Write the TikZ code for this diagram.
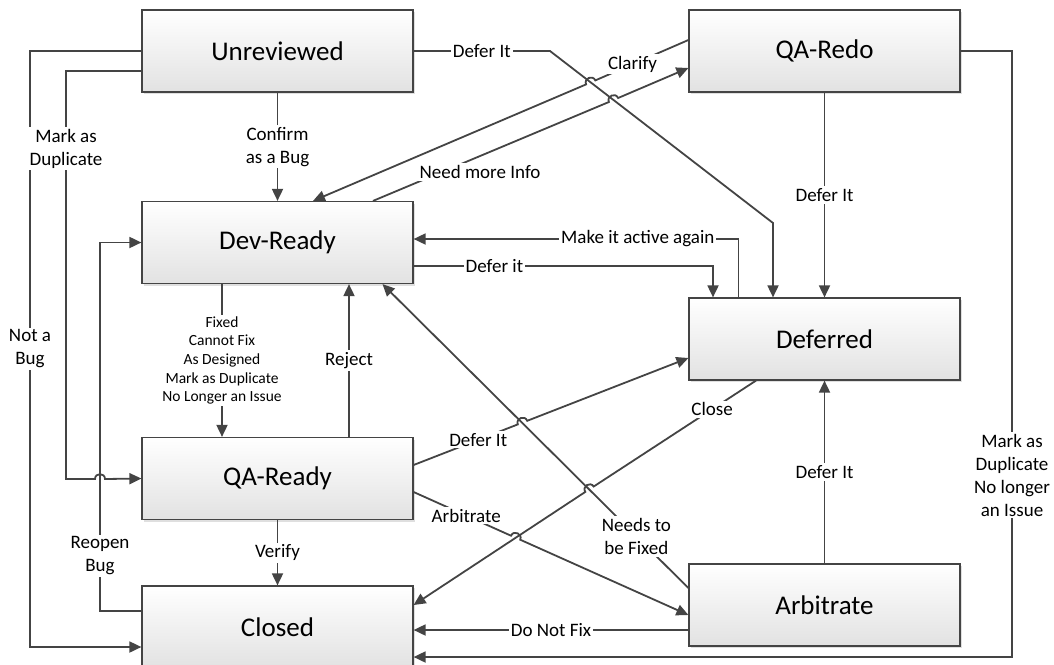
\documentclass[tikz,border=0pt]{standalone}
\usepackage{fontspec}
\setmainfont{Carlito}
\usetikzlibrary{arrows.meta, calc, shadows}
\definecolor{line-color}{RGB}{68,68,68}
\definecolor{box-bottom}{RGB}{226,226,226}
\newcommand{\statefont}{\fontsize{27}{32}\selectfont}
\newcommand{\lblfont}{\fontsize{19}{23}\selectfont}
\newcommand{\listfont}{\fontsize{15.5}{18.6}\selectfont}

\begin{document}
\begin{tikzpicture}[x=1pt, y=-1pt,
    state/.style={draw=line-color, line width=1.2pt, top color=white, bottom color=box-bottom,
        minimum width=271pt, minimum height=82pt, font=\statefont,
        drop shadow={shadow xshift=2pt, shadow yshift=-2pt, opacity=0.25}},
    arr/.style={draw=line-color, line width=1.8pt, -{Triangle[length=12pt,width=11pt]}},
    lbl/.style={fill=white, inner sep=2pt, font=\lblfont, align=center, text=black},
    hopl/.style={to path={.. controls ($(\tikztostart)!6.5pt!90:(\tikztotarget)$) and ($(\tikztotarget)!6.5pt!-90:(\tikztostart)$) .. (\tikztotarget)}},
    hopr/.style={to path={.. controls ($(\tikztostart)!6.5pt!-90:(\tikztotarget)$) and ($(\tikztotarget)!6.5pt!90:(\tikztostart)$) .. (\tikztotarget)}}]
    \useasboundingbox (0,0) rectangle (1054,664);

    % States
    \node[state] (unrev)    at (277.5,51)    {Unreviewed};
    \node[state] (qaredo)   at (824.5,51)    {QA-Redo};
    \node[state] (devready) at (277.5,242.5) {Dev-Ready};
    \node[state] (deferred) at (824.5,339)   {Deferred};
    \node[state] (qaready)  at (277.5,478.5) {QA-Ready};
    \node[state] (closed)   at (277.5,627)   {Closed};
    \node[state] (arbit)    at (824.5,605)   {Arbitrate};

    % Left side loops
    \draw[arr] (unrev.west) -- (30,51) -- node[lbl]{Not a\\Bug} (30,647) -- ($(closed.west)+(0,20)$);
    \draw[arr] ($(unrev.west)+(0,20)$) -- (66,71) -- node[lbl,pos=0.19]{Mark as\\Duplicate} (66,479)
        -- (95,479) to[hopl] (105,479) -- (qaready.west);
    \draw[arr] ($(closed.west)+(0,-16)$) -- (100,611) -- node[lbl,pos=0.15]{Reopen\\Bug} (100,242.5) -- (devready.west);

    % Left column
    \draw[arr] (unrev.south) -- node[lbl]{Confirm\\as a Bug} (devready.north);
    \draw[arr] ($(devready.south)+(-55.5,0)$) -- node[lbl,font=\listfont]{Fixed\\Cannot Fix\\As Designed\\Mark as Duplicate\\No Longer an Issue} ($(qaready.north)+(-55.5,0)$);
    \draw[arr] ($(qaready.north)+(71.5,0)$) -- node[lbl]{Reject} ($(devready.south)+(71.5,0)$);
    \draw[arr] (qaready.south) -- node[lbl]{Verify} (closed.north);

    % Upper crossings
    \draw[arr] (unrev.east) -- node[lbl]{Defer It} (550,51) -- (773,223) -- ($(deferred.north)+(-51.5,0)$);
    \draw[arr] ($(qaredo.west)+(0,-11)$) -- node[lbl,pos=0.6]{Clarify} (595.3,80.4) to[hopr] (586.1,84.4) -- ($(devready.north)+(35.5,0)$);
    \draw[arr] ($(devready.north)+(95.5,0)$) -- (608.9,102.0) to[hopl] (618.1,98.0) -- ($(qaredo.west)+(0,17)$);
    \node[lbl] (infolbl) at (480,172) {Need more Info};

    % Dev-Ready and Deferred
    \draw[arr] ($(deferred.north)+(-86,0)$) -- (738.5,239) -- node[lbl,pos=0.31]{Make it active again} ($(devready.east)+(0,-3.5)$);
    \draw[arr] ($(devready.east)+(0,23.5)$) -- node[lbl,pos=0.27]{Defer it} (713,266) -- ($(deferred.north)+(-111.5,0)$);
    \draw[arr] (qaredo.south) -- node[lbl]{Defer It} (deferred.north);

    % Lower crossings
    \draw[arr] ($(arbit.west)+(0,-17)$) -- node[lbl,pos=0.17]{Needs to\\be Fixed} ($(devready.south)+(105,0)$);
    \draw[arr] ($(qaready.east)+(0,-13.5)$) -- node[lbl,pos=0.62]{Defer It} (517.8,424.4) to[hopl] (527.2,420.8) -- ($(deferred.west)+(0,19)$);
    \draw[arr] ($(deferred.south)+(-68.5,0)$) -- node[lbl,pos=0.27]{Close} (593.7,486.5) to[hopr] (585.3,491.9) -- ($(closed.east)+(0,-22)$);
    \draw[arr] ($(qaready.east)+(0,13.5)$) -- node[lbl,pos=0.54]{Arbitrate} (511.0,535.7) to[hopl] (520.2,539.7) -- ($(arbit.west)+(0,10)$);

    % Right column
    \draw[arr] (arbit.north) -- node[lbl]{Defer It} (deferred.south);
    \draw[arr] ($(arbit.west)+(0,25)$) -- node[lbl]{Do Not Fix} ($(closed.east)+(0,3)$);
    \draw[arr] (qaredo.east) -- (1012,51) -- node[lbl,pos=0.70]{Mark as\\Duplicate\\No longer\\an Issue} (1012,657) -- ($(closed.east)+(0,30)$);
\end{tikzpicture}
\end{document}
